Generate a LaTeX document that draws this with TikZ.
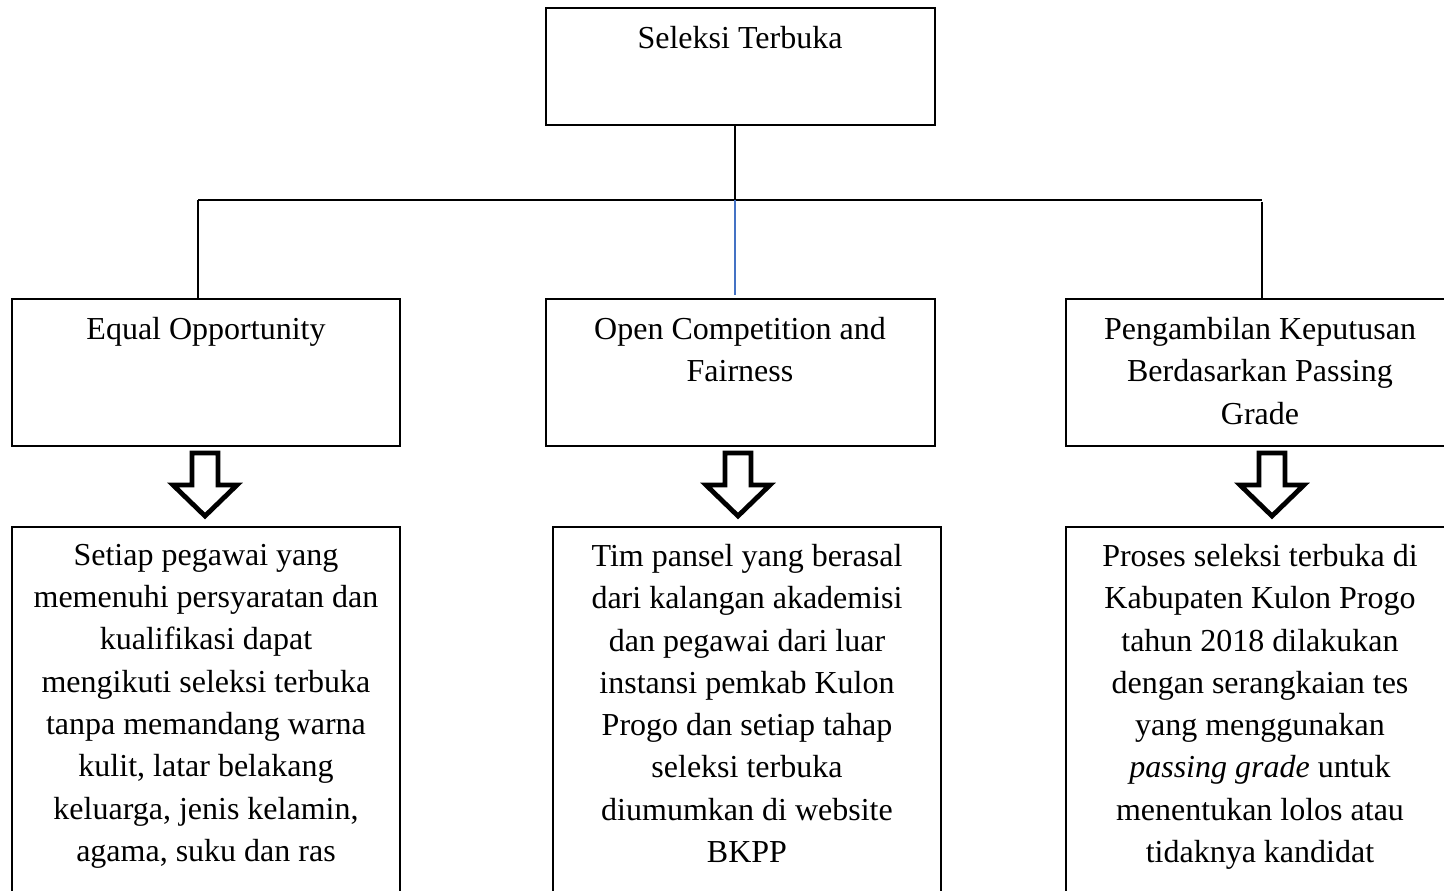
\documentclass[tikz,border=0pt]{standalone}
\usepackage{fontspec}
\setmainfont{Liberation Serif}
\usepackage{tikz}
\usetikzlibrary{positioning}

\definecolor{linkblue}{RGB}{68,114,196}

\tikzset{
  boxnode/.style={draw=black, line width=1.4pt, rectangle, inner sep=0pt},
  boxtext/.style={anchor=north, align=center, inner sep=0pt,
                  font=\fontsize{32}{42.3}\selectfont},
  link/.style={draw=black, line width=2pt},
  hollowarrow/.style={draw=black, line width=4.8pt, line join=miter, fill=white}
}

\begin{document}
\begin{tikzpicture}[x=1pt, y=-1pt]

 % fix the page to the size of the reference
 \useasboundingbox (0,0) rectangle (1444,891);

 % Top box
 \node [boxnode, minimum width=389pt, minimum height=117pt] (seleksi) at (740.5,66.5) {};
 \node [boxtext] (seleksitext) at (740,26) {Seleksi Terbuka};

 % Middle row of boxes
 \node [boxnode, minimum width=388pt, minimum height=147pt] (equal) at (206,372.5) {};
 \node [boxtext] (equaltext) at (206,317) {Equal Opportunity};

 \node [boxnode, minimum width=389pt, minimum height=147pt] (open) at (740.5,372.5) {};
 \node [boxtext] (opentext) at (740,317) {Open Competition and\\Fairness};

 \node [boxnode, minimum width=390pt, minimum height=147pt] (passing) at (1261,372.5) {};
 \node [boxtext] (passingtext) at (1260,317) {Pengambilan Keputusan\\Berdasarkan Passing\\Grade};

 % Bottom row of boxes (run past the lower edge)
 \node [boxnode, minimum width=388pt, minimum height=380pt] (equaldesc) at (206,717) {};
 \node [boxtext] (equaldesctext) at (206,544) {Setiap pegawai yang\\memenuhi persyaratan dan\\kualifikasi dapat\\mengikuti seleksi terbuka\\tanpa memandang warna\\kulit, latar belakang\\keluarga, jenis kelamin,\\agama, suku dan ras};

 \node [boxnode, minimum width=388pt, minimum height=380pt] (opendesc) at (747,717) {};
 \node [boxtext] (opendesctext) at (747,544) {Tim pansel yang berasal\\dari kalangan akademisi\\dan pegawai dari luar\\instansi pemkab Kulon\\Progo dan setiap tahap\\seleksi terbuka\\diumumkan di website\\BKPP};

 \node [boxnode, minimum width=390pt, minimum height=380pt] (passingdesc) at (1261,717) {};
 \node [boxtext] (passingdesctext) at (1260,544) {Proses seleksi terbuka di\\Kabupaten Kulon Progo\\tahun 2018 dilakukan\\dengan serangkaian tes\\yang menggunakan\\\textit{passing grade} untuk\\menentukan lolos atau\\tidaknya kandidat};

 % Branch points of the tree
 \coordinate (hub) at (735,200);
 \coordinate (leftend) at (198,200);
 \coordinate (rightend) at (1262,200);

 % Stem from the top box, and the cross bar
 \draw [link] (seleksi.south -| hub) -- (hub);
 \draw [link] (leftend) -- (rightend);

 % Drops to the middle row
 \draw [link] (leftend) -- (leftend |- equal.north);
 \draw [link, draw=linkblue] (hub) -- ([yshift=3pt]hub |- open.north);
 \draw [link] ([yshift=-2pt]rightend) -- (rightend |- passing.north);

 % Hollow arrows down to the bottom row
 \draw [hollowarrow] (192,453) -- (218,453) -- (218,485) -- (237,485) -- (205,516) -- (173,485) -- (192,485) -- cycle;
 \draw [hollowarrow] (725,453) -- (751,453) -- (751,485) -- (770,485) -- (738,516) -- (706,485) -- (725,485) -- cycle;
 \draw [hollowarrow] (1259,453) -- (1285,453) -- (1285,485) -- (1304,485) -- (1272,516) -- (1240,485) -- (1259,485) -- cycle;

\end{tikzpicture}
\end{document}
